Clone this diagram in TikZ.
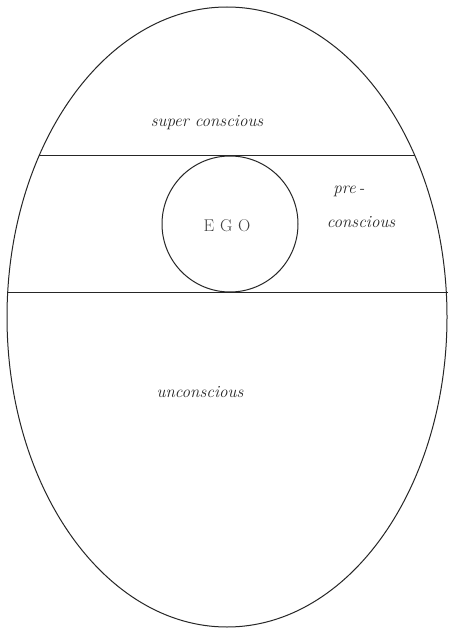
\documentclass[tikz,border=0pt]{standalone}
\usetikzlibrary{shapes.geometric}
\begin{document}
\begin{tikzpicture}[x=1pt,y=-1pt,
  stroke/.style={line width=1pt, draw=black!85},
  lbl/.style={font=\fontsize{17}{19}\selectfont\itshape, text=black!85, inner sep=0pt}]
\useasboundingbox (0,0) rectangle (448,628);
\fill[white] (0,0) rectangle (448,628);
\node[stroke, ellipse, minimum width=440pt, minimum height=620pt, inner sep=0pt] (egg) at (227,317) {};
\node[stroke, circle, minimum size=136pt, inner sep=0pt] (ego) at (230,224) {};
\coordinate (t1) at (39,156);
\coordinate (t2) at (415,156);
\coordinate (b1) at (8,292);
\coordinate (b2) at (448,292);
\draw[stroke] (t1) -- (t2);
\draw[stroke] (b1) -- (b2);
\node[lbl] (sc) at (207,123) {super conscious};
\node[lbl] (pre) at (349,191) {pre\,-};
\node[lbl] (pc) at (361,222) {conscious};
\node[font=\fontsize{17}{19}\selectfont, text=black!75, inner sep=0pt] (egotext) at (227,226) {E\,\,G\,\,O};
\node[lbl] (uc) at (200,392) {unconscious};
\end{tikzpicture}
\end{document}
